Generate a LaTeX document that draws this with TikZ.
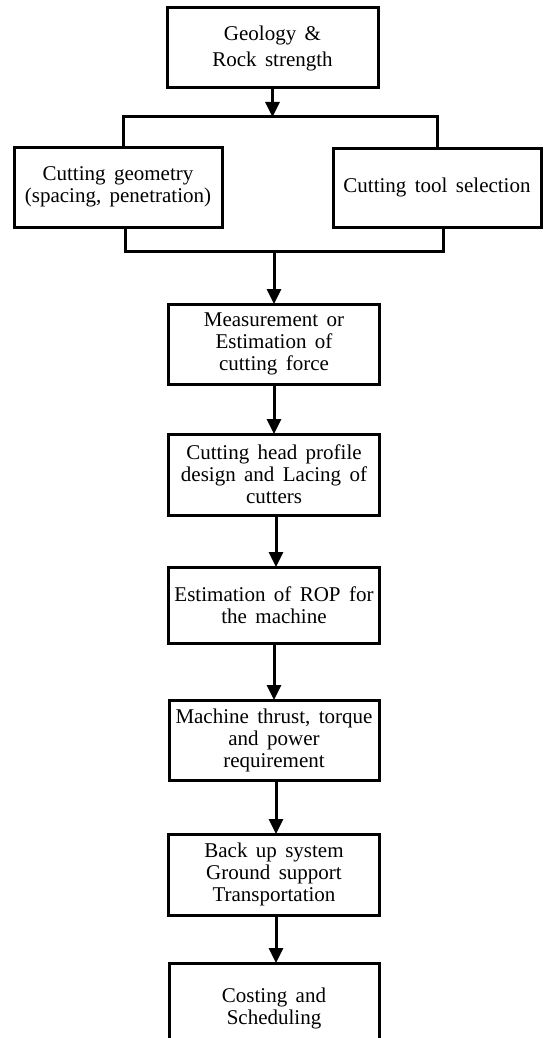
\documentclass[tikz,border=0pt]{standalone}
\usepackage{fontspec}
\setmainfont{Liberation Serif}
\usetikzlibrary{arrows.meta}
\newcommand{\myboxfont}{\fontsize{21}{22}\selectfont\spaceskip=0.4em\relax}
\newcommand{\mytopfont}{\fontsize{21}{26}\selectfont\spaceskip=0.4em\relax}
\tikzset{
  boxstyle/.style={draw, line width=3pt, rectangle, outer sep=0pt, inner sep=0pt,
    align=center, font=\myboxfont},
  flow/.style={line width=3pt},
  arrowflow/.style={line width=3pt, -{Triangle[length=15pt,width=14pt]}},
}
\begin{document}
\begin{tikzpicture}[x=1pt,y=-1pt]
\useasboundingbox (0,0) rectangle (545,1038);
\clip (0,0) rectangle (545,1038);
\node[boxstyle, font=\mytopfont, minimum width=211pt, minimum height=80pt] (geo) at (272.5,48) {Geology \&\\Rock strength};
\node[boxstyle, minimum width=208pt, minimum height=80pt] (cg) at (118,187) {Cutting geometry\\(spacing, penetration)};
\node[boxstyle, minimum width=208pt, minimum height=79pt] (cts) at (437,187.5) {Cutting tool selection};
\node[boxstyle, minimum width=211pt, minimum height=80pt] (meas) at (274,344) {Measurement or\\Estimation of\\cutting force};
\node[boxstyle, minimum width=211pt, minimum height=81pt] (head) at (274,474.5) {Cutting head profile\\design and Lacing of\\cutters};
\node[boxstyle, minimum width=211pt, minimum height=76pt] (rop) at (274,605) {Estimation of ROP for\\the machine};
\node[boxstyle, minimum width=210pt, minimum height=80pt] (thrust) at (274,740) {Machine thrust, torque\\and power\\requirement};
\node[boxstyle, minimum width=211pt, minimum height=81pt] (backup) at (274,874.5) {Back up system\\Ground support\\Transportation};
\node[boxstyle, minimum width=210pt, minimum height=90pt] (cost) at (274,1008) {Costing and\\Scheduling};
\coordinate (split) at (272.5,117);
\coordinate (merge) at (274,251);
\draw[arrowflow] (geo.south) -- (split);
\draw[flow] ([xshift=5pt]cg.north) |- (split) -| (cts.north);
\draw[flow] ([xshift=7pt]cg.south) |- (merge) -| ([xshift=6pt]cts.south);
\draw[arrowflow] (merge) -- (meas.north);
\draw[arrowflow] (meas.south) -- (head.north);
\draw[arrowflow] ([xshift=2pt]head.south) -- ([xshift=2pt]rop.north);
\draw[arrowflow] (rop.south) -- (thrust.north);
\draw[arrowflow] ([xshift=2pt]thrust.south) -- ([xshift=2pt]backup.north);
\draw[arrowflow] ([xshift=2pt]backup.south) -- ([xshift=2pt]cost.north);
\end{tikzpicture}
\end{document}
